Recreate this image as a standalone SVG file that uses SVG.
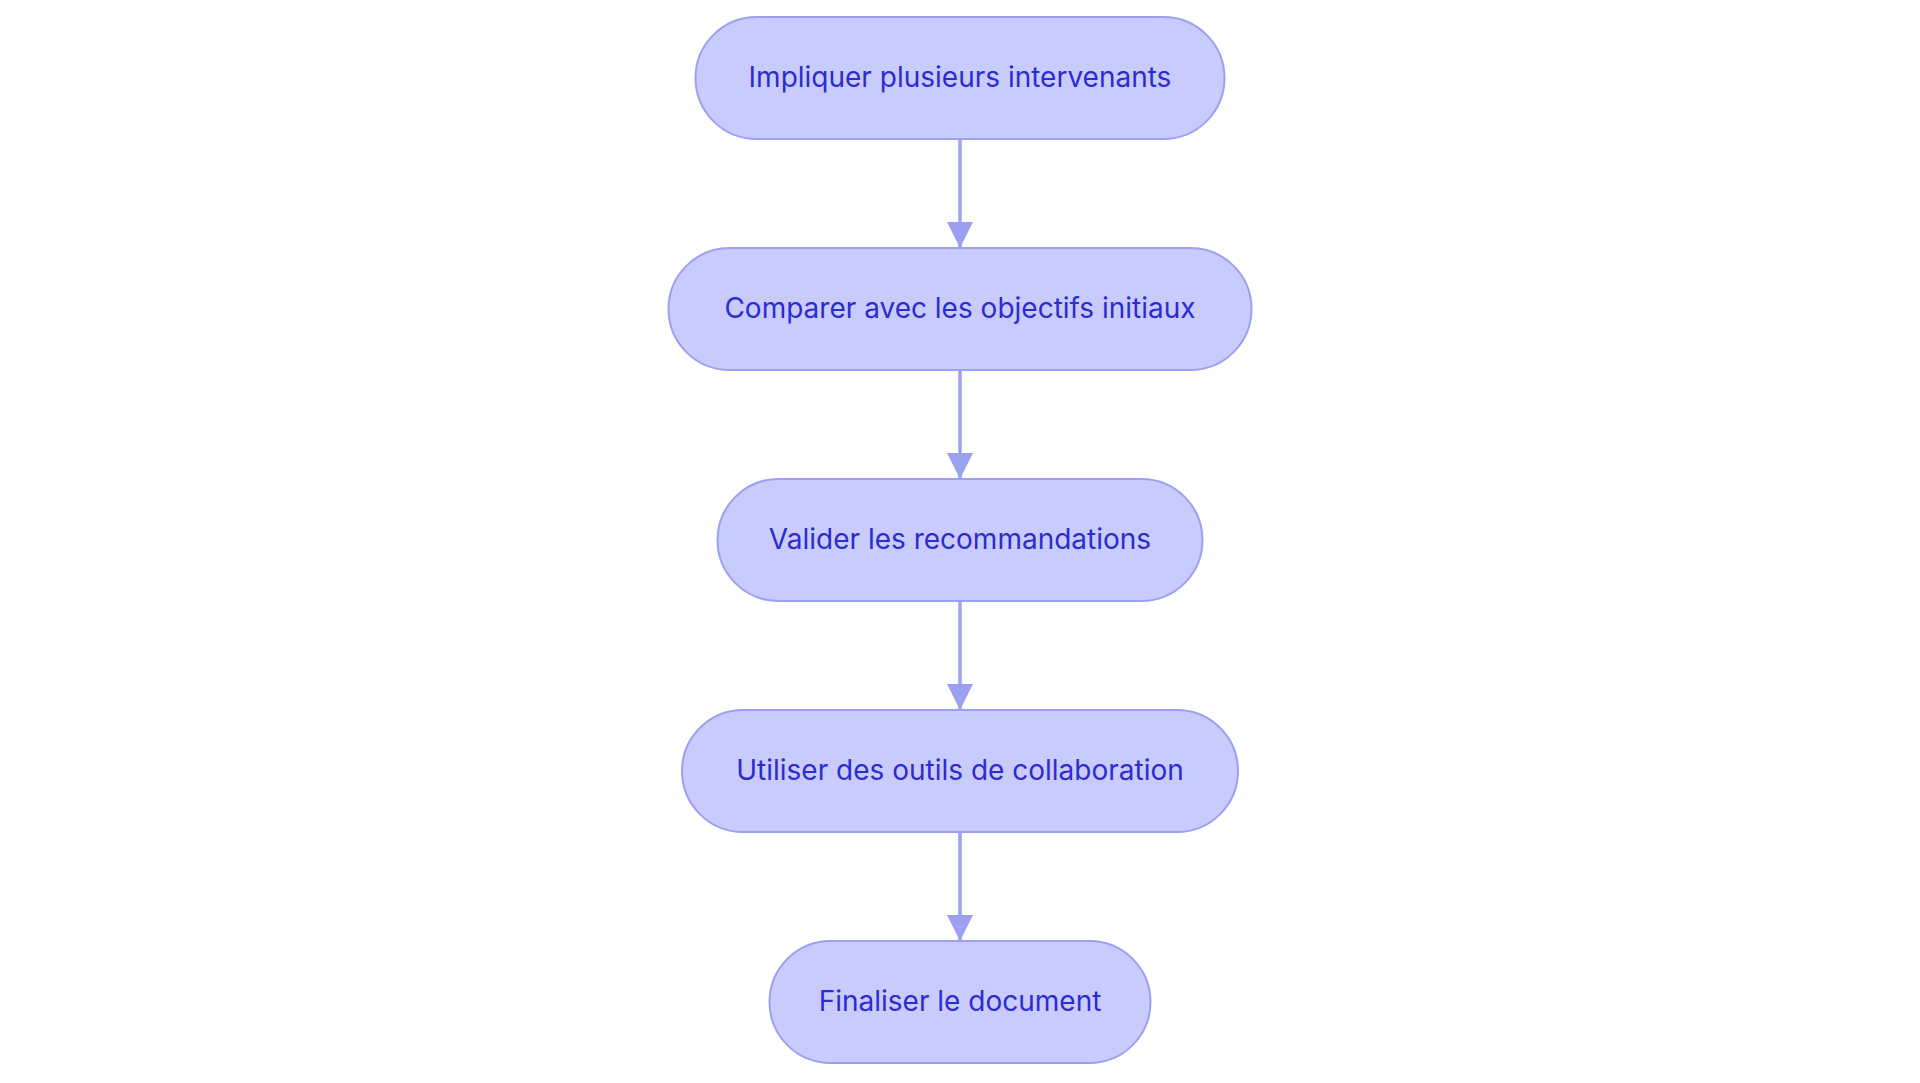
<svg xmlns="http://www.w3.org/2000/svg" width="1920" height="1083" viewBox="0 0 1920 1083">
<style>
.n rect{fill:#c9cbfd;stroke:#9ba0f0;stroke-width:2}
.n text{font-family:Inter,"Open Sans",sans-serif;font-size:28px;fill:#2c2ccf;text-anchor:middle;dominant-baseline:central}
.c line{stroke:#9ba0f0;stroke-width:3.5}
</style>
<defs><marker id="a" markerUnits="userSpaceOnUse" markerWidth="28" markerHeight="26" refX="26" refY="13" orient="auto"><path d="M0,0L26,13L0,26Z" fill="#9ba0f0"/></marker></defs>
<rect width="1920" height="1083" fill="#fff"/>
<g class="c">
<line x1="960" y1="139" x2="960" y2="248" marker-end="url(#a)"/>
<line x1="960" y1="370" x2="960" y2="479" marker-end="url(#a)"/>
<line x1="960" y1="601" x2="960" y2="710" marker-end="url(#a)"/>
<line x1="960" y1="832" x2="960" y2="941" marker-end="url(#a)"/>
</g>
<g id="n1" class="n"><rect x="695.5" y="17" width="529" height="122" rx="61"/><text x="960" y="77">Impliquer plusieurs intervenants</text></g>
<g id="n2" class="n"><rect x="668.5" y="248" width="583" height="122" rx="61"/><text x="960" y="308">Comparer avec les objectifs initiaux</text></g>
<g id="n3" class="n"><rect x="717.5" y="479" width="485" height="122" rx="61"/><text x="960" y="539">Valider les recommandations</text></g>
<g id="n4" class="n"><rect x="682" y="710" width="556" height="122" rx="61"/><text x="960" y="770">Utiliser des outils de collaboration</text></g>
<g id="n5" class="n"><rect x="769.5" y="941" width="381" height="122" rx="61"/><text x="960" y="1001">Finaliser le document</text></g>
</svg>
